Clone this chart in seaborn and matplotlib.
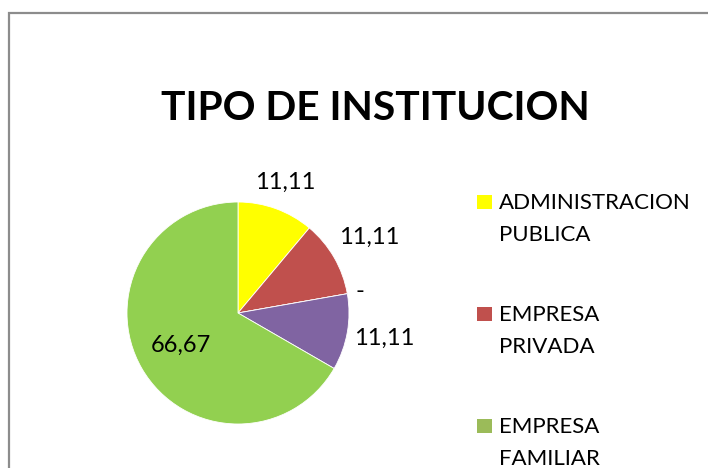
import numpy as np
import seaborn as sns
import matplotlib
matplotlib.use("Agg")
import matplotlib.pyplot as plt
from matplotlib.patches import Rectangle

# data (Excel pie, values in %)
categories = ["ADMINISTRACION\nPUBLICA", "EMPRESA\nPRIVADA", "EMPRESA\nFAMILIAR", "OTRA", "OTRA 2"]
values = [11.11, 11.11, 0.0, 11.11, 66.67]
value_labels = ["11,11", "11,11", "-", "11,11", "66,67"]
colors = ["#FFFF00", "#C0504D", "#9BBB59", "#8064A2", "#92D050"]
legend_count = 3  # only the first three legend entries fit in the picture

sns.set_theme(style="white")
plt.rcParams["font.family"] = ["Lato", "DejaVu Sans"]

W, H = 708, 468
fig = plt.figure(figsize=(W / 100, H / 100), dpi=100)
fig.patch.set_facecolor("white")

# chart border (cut off on the right and at the bottom)
fig.patches.append(Rectangle((8.5 / W, -0.2), 1.2, 1.2 - 12.5 / H,
                             transform=fig.transFigure, fill=False,
                             edgecolor="#8C8C8C", linewidth=1.6, clip_on=False))

cx, cy, r = 238, 313, 111
half = 1.25 * r
ax = fig.add_axes([(cx - half) / W, (H - cy - half) / H, 2 * half / W, 2 * half / H])
wedges, _ = ax.pie(values, colors=colors, startangle=90, counterclock=False,
                   wedgeprops=dict(linewidth=0.6, edgecolor="white"))
ax.set_xlim(-1.25, 1.25)
ax.set_ylim(-1.25, 1.25)
ax.set_aspect("equal")
ax.axis("off")

# label distances (Excel best-fit placement)
dists = [1.25, 1.36, 1.12, 1.34, 0.59]
for w, lab, d in zip(wedges, value_labels, dists):
    ang = np.deg2rad((w.theta1 + w.theta2) / 2)
    ax.text(d * np.cos(ang), d * np.sin(ang), lab, ha="center", va="center",
            fontsize=17, color="black", clip_on=False)

fig.text(375 / W, 1 - 109 / H, "TIPO DE INSTITUCION", ha="center", va="center",
         fontsize=29.3, fontweight="bold", color="black")

# legend drawn by hand so the marker sits on the first line like in Excel
for i, (lab, c) in enumerate(zip(categories[:legend_count], colors[:legend_count])):
    top = 195 + 112 * i
    fig.patches.append(Rectangle((477 / W, 1 - (top + 14) / H), 15 / W, 14 / H,
                                 transform=fig.transFigure, facecolor=c,
                                 edgecolor="none"))
    for j, line in enumerate(lab.split("\n")):
        fig.text(499 / W, 1 - (top + 14 + 32 * j) / H, line, ha="left",
                 va="baseline", fontsize=16, color="black")

fig.savefig("out.png", dpi=100, facecolor="white")
